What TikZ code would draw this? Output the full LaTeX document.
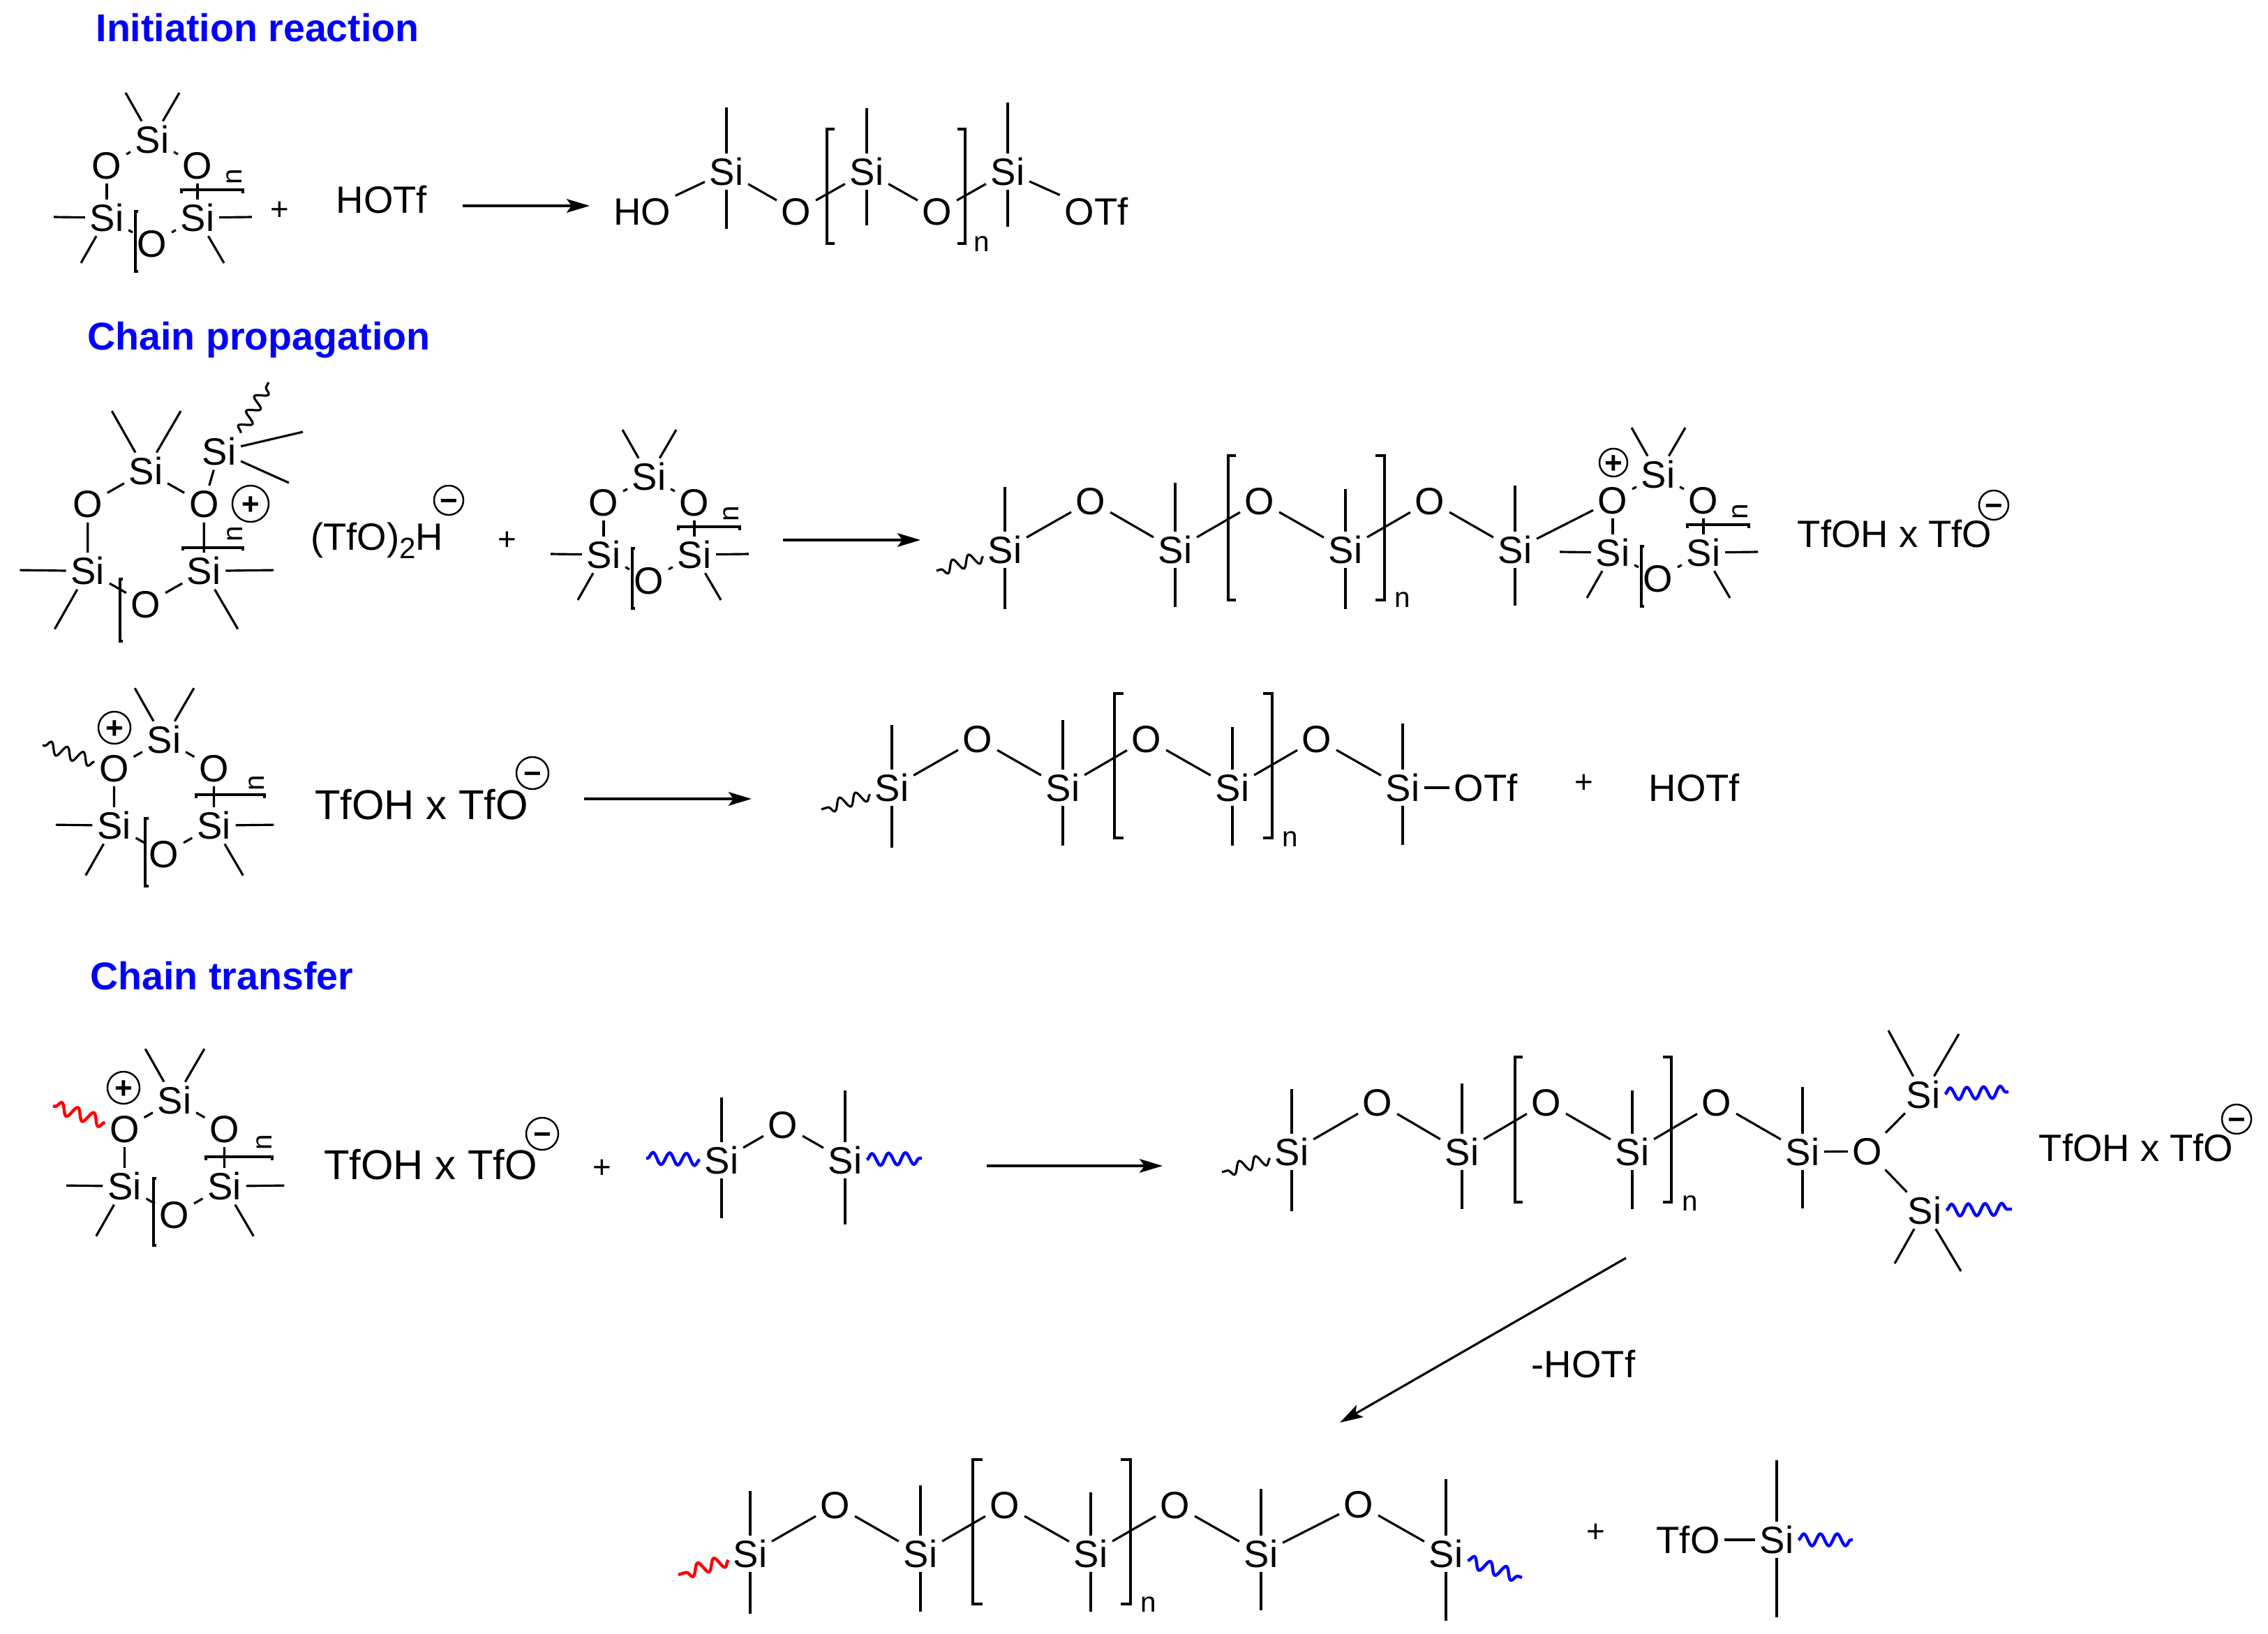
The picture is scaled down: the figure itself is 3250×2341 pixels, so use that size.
\documentclass[tikz,border=0pt]{standalone}
\usepackage{fontspec}
\setmainfont{Liberation Sans}
\usetikzlibrary{arrows.meta,decorations.pathmorphing}
\tikzset{
  atom/.style={font=\fontsize{15.5}{18}\selectfont,inner sep=1.5pt,text height=11.1pt,text depth=0pt},
  bigtext/.style={font=\fontsize{17}{20}\selectfont,inner sep=0pt,text height=12.2pt,text depth=0pt},
  heading/.style={font=\fontsize{15.8}{18}\selectfont\bfseries,text=blue,anchor=west,inner sep=0pt,text height=11.3pt,text depth=0pt},
  repeat/.style={font=\fontsize{11.5}{13}\selectfont,inner sep=0pt},
  plussign/.style={font=\fontsize{13}{15}\selectfont,inner sep=0pt},
  charge/.style={circle,draw,line width=.7pt,inner sep=0pt,minimum size=#1,font=\fontsize{12.5}{13}\selectfont\bfseries,text height=8.75pt,text depth=0pt},
  bracket/.style={line width=.9pt},
  wavy/.style={line width=.9pt,decorate,decoration={snake,segment length=.24cm,amplitude=.085cm}},
  redwavy/.style={wavy,line width=1.25pt,draw=red},
  bluewavy/.style={wavy,line width=1.25pt,draw=blue},
  rxnarrow/.style={line width=.9pt,-{Stealth[length=9.4pt,width=5.6pt,inset=2pt]}}
}
\newcommand{\dmsring}[4]{%
  \begin{scope}[shift={(#2,#3)},scale=#4]
    \draw
      (0,0) node[atom] (#1s1){Si}
      (65,37) node[atom] (#1o1){O}
      (65,112) node[atom] (#1s2){Si}
      (0,149) node[atom] (#1o2){O}
      (-65,112) node[atom] (#1s3){Si}
      (-65,37) node[atom] (#1o3){O};
    \coordinate (#1m1) at (-38,-67);
    \coordinate (#1m2) at (39,-67);
    \coordinate (#1m3) at (143,111);
    \coordinate (#1m4) at (103,177);
    \coordinate (#1m5) at (-141,111);
    \coordinate (#1m6) at (-102,177);
    \draw (#1s1) to (#1o1);
    \draw (#1o1) to (#1s2);
    \draw (#1s2) to (#1o2);
    \draw (#1o2) to (#1s3);
    \draw (#1s3) to (#1o3);
    \draw (#1o3) to (#1s1);
    \draw (#1s1) to (#1m1);
    \draw (#1s1) to (#1m2);
    \draw (#1s2) to (#1m3);
    \draw (#1s2) to (#1m4);
    \draw (#1s3) to (#1m5);
    \draw (#1s3) to (#1m6);
  \end{scope}}
\newcommand{\silane}[5]{%
  \draw (#2,#3) node[atom] (#1){Si};
  \coordinate (#1t) at (#2,#4);
  \coordinate (#1b) at (#2,#5);
  \draw (#1) to (#1t);
  \draw (#1) to (#1b);}
\begin{document}
\begin{tikzpicture}[x=.01cm,y=-.01cm,line width=.9pt]
      \useasboundingbox (0,0) rectangle (3250,2341);
      \node[heading] (head1) at (136,40) {Initiation reaction};
      \node[heading] (head2) at (124,482) {Chain propagation};
      \node[heading] (head3) at (128,1399) {Chain transfer};

      \dmsring{ra}{218}{200}{1}
      \draw[bracket] (260,277) -- (260,272) -- (348,272) -- (348,277);
      \draw[bracket] (198,303) -- (194,303) -- (194,389) -- (198,389);
      \node[repeat,rotate=90] (na1) at (336,253) {n};
      \node[plussign] (plusa) at (401,302) {+};
      \node[atom] (hotfa) at (547,286) {HOTf};
      \coordinate (arra1) at (663,295);
      \coordinate (arra2) at (845,295);
      \draw[rxnarrow] (arra1) to (arra2);
      \draw
        (920,303) node[atom] (hoa){HO}
        (1141,303) node[atom] (oa1){O}
        (1343,303) node[atom] (oa2){O}
        (1571,303) node[atom] (otfa){OTf};
      \silane{sa1}{1041}{246}{154}{328}
      \silane{sa2}{1242}{246}{155}{323}
      \silane{sa3}{1444}{246}{147}{325}
      \draw (hoa) to (sa1);
      \draw (sa1) to (oa1);
      \draw (oa1) to (sa2);
      \draw (sa2) to (oa2);
      \draw (oa2) to (sa3);
      \draw (sa3) to (otfa);
      \draw[bracket] (1196,185) -- (1185,185) -- (1185,349) -- (1196,349);
      \draw[bracket] (1372,185) -- (1383,185) -- (1383,349) -- (1372,349);
      \node[repeat] (na2) at (1407,350) {n};

      \dmsring{rb}{209}{675}{1.28}
      \draw[bracket] (262,789) -- (262,785) -- (348,785) -- (348,789);
      \draw[bracket] (176,830) -- (172,830) -- (172,919) -- (176,919);
      \node[repeat,rotate=90] (nb1) at (337,765) {n};
      \node[atom] (sib) at (314,647) {Si};
      \coordinate (mb1) at (434,619);
      \coordinate (mb2) at (414,692);
      \coordinate (wb1) at (385,548);
      \draw (rbo1) to (sib);
      \draw (sib) to (mb1);
      \draw (sib) to (mb2);
      \draw[wavy] (sib.north east) to (wb1);
      \node[charge=.52cm] (plusb1) at (359,722) {+};
      \node[atom] (tfob) at (540,769) {(TfO)\raisebox{-3.5pt}{\fontsize{12}{13}\selectfont 2}H};
      \node[charge=.42cm] (minusb) at (643,717) {−};
      \node[plussign] (plusb2) at (727,775) {+};
      \dmsring{rc}{930}{683}{1}
      \draw[bracket] (972,760) -- (972,755) -- (1060,755) -- (1060,760);
      \draw[bracket] (910,786) -- (906,786) -- (906,872) -- (910,872);
      \node[repeat,rotate=90] (nc1) at (1048,736) {n};
      \coordinate (arrb1) at (1122,774);
      \coordinate (arrb2) at (1319,774);
      \draw[rxnarrow] (arrb1) to (arrb2);
      \draw
        (1563,718) node[atom] (ob1){O}
        (1805,718) node[atom] (ob2){O}
        (2049,718) node[atom] (ob3){O};
      \silane{sb1}{1440}{788}{698}{873}
      \silane{sb2}{1684}{788}{692}{870}
      \silane{sb3}{1928}{788}{701}{873}
      \silane{sb4}{2171}{788}{696}{868}
      \coordinate (wb2) at (1342,818);
      \draw[wavy] (sb1) to (wb2);
      \draw (sb1) to (ob1);
      \draw (ob1) to (sb2);
      \draw (sb2) to (ob2);
      \draw (ob2) to (sb3);
      \draw (sb3) to (ob3);
      \draw (ob3) to (sb4);
      \draw[bracket] (1771,653) -- (1760,653) -- (1760,860) -- (1771,860);
      \draw[bracket] (1971,653) -- (1984,653) -- (1984,860) -- (1971,860);
      \node[repeat] (nb2) at (2010,860) {n};
      \dmsring{rd}{2376}{680}{1}
      \draw (sb4) to (rdo3);
      \draw[bracket] (2418,757) -- (2418,752) -- (2506,752) -- (2506,757);
      \draw[bracket] (2356,783) -- (2352,783) -- (2352,869) -- (2356,869);
      \node[repeat,rotate=90] (nd1) at (2494,733) {n};
      \node[charge=.4cm] (plusd) at (2312,663) {+};
      \node[atom] (tfohb) at (2715,765) {TfOH x TfO};
      \node[charge=.42cm] (minusd) at (2857,724) {−};

      \dmsring{re}{235}{1060}{1.1}
      \draw[bracket] (281,1144) -- (281,1139) -- (379,1139) -- (379,1144);
      \draw[bracket] (213,1173) -- (208,1173) -- (208,1270) -- (213,1270);
      \node[repeat,rotate=90] (ne1) at (368,1122) {n};
      \node[charge=.46cm] (pluse) at (164,1043) {+};
      \coordinate (we1) at (61,1068);
      \draw[wavy] (reo3) to (we1);
      \node[bigtext] (tfohe) at (604,1153) {TfOH x TfO};
      \node[charge=.46cm] (minuse) at (763,1108) {−};
      \coordinate (arre1) at (837,1145);
      \coordinate (arre2) at (1077,1145);
      \draw[rxnarrow] (arre1) to (arre2);
      \draw
        (1401,1059) node[atom] (oe1){O}
        (1643,1059) node[atom] (oe2){O}
        (1887,1059) node[atom] (oe3){O}
        (2129,1129) node[atom] (otfe){OTf};
      \silane{se1}{1278}{1129}{1039}{1215}
      \silane{se2}{1523}{1129}{1032}{1212}
      \silane{se3}{1766}{1129}{1042}{1212}
      \silane{se4}{2010}{1129}{1037}{1211}
      \coordinate (we2) at (1177,1160);
      \draw[wavy] (se1) to (we2);
      \draw (se1) to (oe1);
      \draw (oe1) to (se2);
      \draw (se2) to (oe2);
      \draw (oe2) to (se3);
      \draw (se3) to (oe3);
      \draw (oe3) to (se4);
      \draw (se4) to (otfe);
      \draw[bracket] (1610,994) -- (1597,994) -- (1597,1201) -- (1610,1201);
      \draw[bracket] (1810,994) -- (1823,994) -- (1823,1201) -- (1810,1201);
      \node[repeat] (ne2) at (1849,1203) {n};
      \node[plussign] (pluse2) at (2270,1123) {+};
      \node[atom] (hotfe) at (2428,1129) {HOTf};

      \dmsring{rf}{250}{1577}{1.1}
      \draw[bracket] (295,1663) -- (295,1658) -- (390,1658) -- (390,1663);
      \draw[bracket] (224,1689) -- (220,1689) -- (220,1785) -- (224,1785);
      \node[repeat,rotate=90] (nf1) at (379,1637) {n};
      \node[charge=.46cm] (plusf) at (177,1559) {+};
      \coordinate (wf1) at (76,1585);
      \draw[redwavy] (rfo3) to (wf1);
      \node[bigtext] (tfohf) at (617,1669) {TfOH x TfO};
      \node[charge=.46cm] (minusf) at (777,1625) {−};
      \node[plussign] (plusf2) at (863,1675) {+};
      \node[atom] (of1) at (1122,1612) {O};
      \silane{sf1}{1034}{1663}{1573}{1746}
      \silane{sf2}{1211}{1663}{1563}{1755}
      \draw (sf1) to (of1);
      \draw (of1) to (sf2);
      \coordinate (wf2) at (926,1660);
      \coordinate (wf3) at (1321,1660);
      \draw[bluewavy] (sf1) to (wf2);
      \draw[bluewavy] (sf2) to (wf3);
      \coordinate (arrf1) at (1414,1671);
      \coordinate (arrf2) at (1666,1671);
      \draw[rxnarrow] (arrf1) to (arrf2);
      \draw
        (1974,1580) node[atom] (og1){O}
        (2216,1580) node[atom] (og2){O}
        (2460,1580) node[atom] (og3){O}
        (2676,1650) node[atom] (og4){O}
        (2756,1569) node[atom] (sg5){Si}
        (2758,1735) node[atom] (sg6){Si};
      \silane{sg1}{1851}{1651}{1561}{1736}
      \silane{sg2}{2095}{1651}{1553}{1733}
      \silane{sg3}{2339}{1651}{1563}{1733}
      \silane{sg4}{2583}{1651}{1558}{1732}
      \coordinate (wg1) at (1751,1680);
      \draw[wavy] (sg1) to (wg1);
      \draw (sg1) to (og1);
      \draw (og1) to (sg2);
      \draw (sg2) to (og2);
      \draw (og2) to (sg3);
      \draw (sg3) to (og3);
      \draw (og3) to (sg4);
      \draw (sg4) to (og4);
      \draw (og4) to (sg5);
      \draw (og4) to (sg6);
      \coordinate (mg1) at (2706,1477);
      \coordinate (mg2) at (2807,1482);
      \coordinate (mg3) at (2715,1811);
      \coordinate (mg4) at (2810,1822);
      \draw (sg5) to (mg1);
      \draw (sg5) to (mg2);
      \draw (sg6) to (mg3);
      \draw (sg6) to (mg4);
      \coordinate (wg2) at (2878,1565);
      \coordinate (wg3) at (2883,1733);
      \draw[bluewavy] (sg5) to (wg2);
      \draw[bluewavy] (sg6) to (wg3);
      \draw[bracket] (2182,1515) -- (2171,1515) -- (2171,1723) -- (2182,1723);
      \draw[bracket] (2383,1515) -- (2395,1515) -- (2395,1723) -- (2383,1723);
      \node[repeat] (ng) at (2422,1725) {n};
      \node[atom] (tfohg) at (3061,1645) {TfOH x TfO};
      \node[charge=.42cm] (minusg) at (3205,1604) {−};
      \coordinate (arrg1) at (2330,1803);
      \coordinate (arrg2) at (1920,2039);
      \draw[rxnarrow] (arrg1) to (arrg2);
      \node[atom] (minushotf) at (2269,1955) {-HOTf};

      \draw
        (1197,2157) node[atom] (oh1){O}
        (1440,2157) node[atom] (oh2){O}
        (1684,2157) node[atom] (oh3){O}
        (1947,2156) node[atom] (oh4){O};
      \silane{sh1}{1075}{2227}{2137}{2313}
      \silane{sh2}{1319}{2227}{2129}{2310}
      \silane{sh3}{1563}{2227}{2139}{2310}
      \silane{sh4}{1807}{2227}{2134}{2308}
      \silane{sh5}{2072}{2227}{2120}{2323}
      \coordinate (wh1) at (972,2257);
      \coordinate (wh2) at (2181,2261);
      \draw[redwavy] (sh1) to (wh1);
      \draw[bluewavy] (sh5) to (wh2);
      \draw (sh1) to (oh1);
      \draw (oh1) to (sh2);
      \draw (sh2) to (oh2);
      \draw (oh2) to (sh3);
      \draw (sh3) to (oh3);
      \draw (oh3) to (sh4);
      \draw (sh4) to (oh4);
      \draw (oh4) to (sh5);
      \draw[bracket] (1408,2092) -- (1394,2092) -- (1394,2299) -- (1408,2299);
      \draw[bracket] (1606,2092) -- (1620,2092) -- (1620,2299) -- (1606,2299);
      \node[repeat] (nh) at (1646,2300) {n};
      \node[plussign] (plush) at (2287,2197) {+};
      \node[atom] (tfoh) at (2419,2207) {TfO};
      \silane{sh6}{2546}{2207}{2093}{2318}
      \draw (tfoh) to (sh6);
      \coordinate (wh3) at (2655,2207);
      \draw[bluewavy] (sh6) to (wh3);
\end{tikzpicture}
\end{document}
